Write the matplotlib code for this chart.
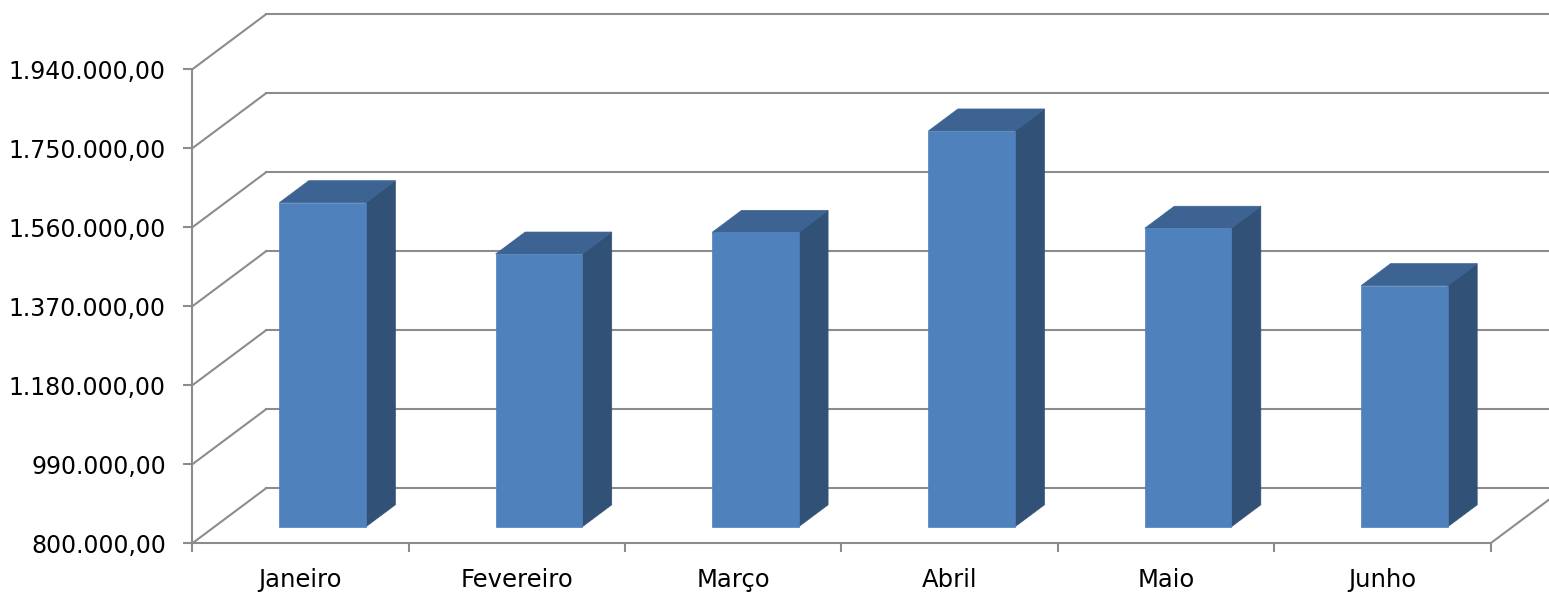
import matplotlib
matplotlib.use("Agg")
import matplotlib.pyplot as plt
from matplotlib.patches import Polygon
from matplotlib.lines import Line2D

# ---- data ----
categories = ["Janeiro", "Fevereiro", "Março", "Abril", "Maio", "Junho"]
values = [1579500, 1456000, 1508000, 1752000, 1518000, 1380000]
y_ticks = [800000, 990000, 1180000, 1370000, 1560000, 1750000, 1940000]
y_tick_labels = ["800.000,00", "990.000,00", "1.180.000,00", "1.370.000,00",
                 "1.560.000,00", "1.750.000,00", "1.940.000,00"]

# ---- figure / axes (front plane) ----
W, H = 1549, 593
fig = plt.figure(figsize=(W / 100, H / 100), dpi=100)
x0px, x1px = 192.3, 1490.5
ytop_px, ybot_px = 69.3, 543.3
ax = fig.add_axes([x0px / W, (H - ybot_px) / H, (x1px - x0px) / W, (ybot_px - ytop_px) / H])
ymin, ymax = y_ticks[0], y_ticks[-1]
n = len(categories)
ax.set_xlim(0, n)
ax.set_ylim(ymin, ymax)

grid_c = "#8C8C8C"
lw = 1.5

# depth offsets in data units (oblique projection)
px_per_cat = (x1px - x0px) / n
px_per_val = (ybot_px - ytop_px) / (ymax - ymin)
DX = 73.7 / px_per_cat
DY = 55.0 / px_per_val

for s in ["top", "right"]:
    ax.spines[s].set_visible(False)
for s in ["left", "bottom"]:
    ax.spines[s].set_color(grid_c)
    ax.spines[s].set_linewidth(lw)
    ax.spines[s].set_zorder(5)

ax.set_yticks(y_ticks)
ax.set_yticklabels(y_tick_labels)
ax.set_xticks([i + 0.5 for i in range(n)])
ax.set_xticklabels(categories)
ax.set_xticks(list(range(n + 1)), minor=True)
ax.tick_params(axis="y", direction="out", length=6.5, width=lw, color=grid_c,
               pad=12.5, labelsize=17, labelcolor="black")
ax.tick_params(axis="x", which="major", length=0, pad=17.5, labelsize=17.5, labelcolor="black")
ax.tick_params(axis="x", which="minor", direction="out", length=6.5, width=lw, color=grid_c)
for lab in ax.get_xticklabels() + ax.get_yticklabels():
    lab.set_family("DejaVu Sans")

# ---- walls: left wall diagonals, back wall gridlines, floor right edge ----
for v in y_ticks:
    ax.add_line(Line2D([0, DX], [v, v + DY], color=grid_c, lw=lw, clip_on=False, zorder=1))
    ax.add_line(Line2D([DX, n + DX], [v + DY, v + DY], color=grid_c, lw=lw, clip_on=False, zorder=1))
ax.add_line(Line2D([n, n + DX], [ymin, ymin + DY], color=grid_c, lw=lw, clip_on=False, zorder=1))

# ---- 3D bars ----
front_c, top_c, side_c = "#4F81BD", "#3C6391", "#325177"
d0, d1 = 0.3, 0.7
bw0, bw1 = 0.3, 0.7
for i, v in enumerate(values):
    xl = i + bw0 + d0 * DX
    xr = i + bw1 + d0 * DX
    yb = ymin + d0 * DY
    yt = v + d0 * DY
    ddx = (d1 - d0) * DX
    ddy = (d1 - d0) * DY
    front = Polygon([(xl, yb), (xr, yb), (xr, yt), (xl, yt)], closed=True,
                    facecolor=front_c, edgecolor=front_c, lw=0.5, clip_on=False, zorder=3)
    top = Polygon([(xl, yt), (xr, yt), (xr + ddx, yt + ddy), (xl + ddx, yt + ddy)], closed=True,
                  facecolor=top_c, edgecolor=top_c, lw=0.5, clip_on=False, zorder=3)
    side = Polygon([(xr, yb), (xr + ddx, yb + ddy), (xr + ddx, yt + ddy), (xr, yt)], closed=True,
                   facecolor=side_c, edgecolor=side_c, lw=0.5, clip_on=False, zorder=3)
    for p in (side, top, front):
        ax.add_patch(p)

ax.set_facecolor("none")
fig.savefig("out.png", dpi=100, facecolor="white")
